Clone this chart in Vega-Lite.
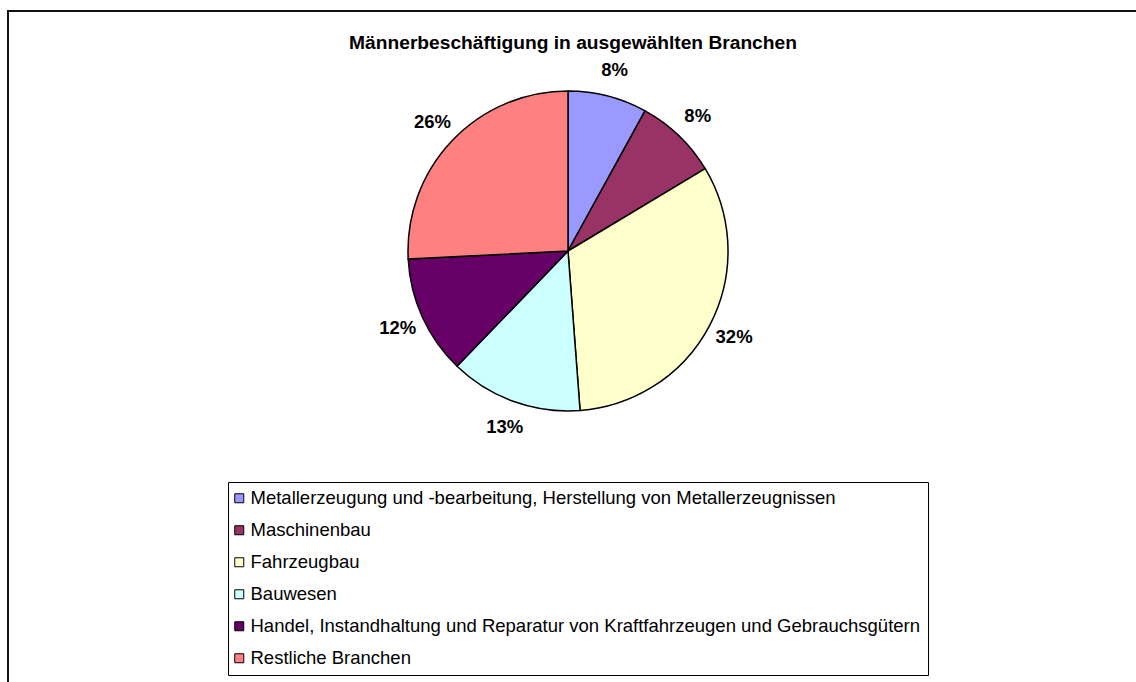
{
  "$schema": "https://vega.github.io/schema/vega-lite/v6.json",
  "autosize": {"type": "none"},
  "padding": {"left": 8, "top": 11, "right": 0, "bottom": 0},
  "width": 1130,
  "height": 673,
  "background": "white",
  "config": {
    "view": {"stroke": null},
    "font": "Liberation Sans"
  },
  "title": {
    "text": "Männerbeschäftigung in ausgewählten Branchen",
    "fontSize": 19.2,
    "fontWeight": "bold",
    "font": "Liberation Sans",
    "color": "black",
    "anchor": "middle",
    "dy": 47
  },
  "data": {
    "values": [
      {"branche": "Metallerzeugung und -bearbeitung, Herstellung von Metallerzeugnissen", "anteil": 0.080, "i": 1},
      {"branche": "Maschinenbau", "anteil": 0.084, "i": 2},
      {"branche": "Fahrzeugbau", "anteil": 0.324, "i": 3},
      {"branche": "Bauwesen", "anteil": 0.134, "i": 4},
      {"branche": "Handel, Instandhaltung und Reparatur von Kraftfahrzeugen und Gebrauchsgütern", "anteil": 0.120, "i": 5},
      {"branche": "Restliche Branchen", "anteil": 0.258, "i": 6}
    ]
  },
  "layer": [
    {
      "data": {"values": [{}]},
      "mark": {"type": "rect", "x": 0, "y": 0, "x2": {"expr": "width"}, "y2": {"expr": "height"}, "fill": null, "stroke": "#111111", "strokeWidth": 2},
      "encoding": {}
    },
    {
      "mark": {"type": "arc", "outerRadius": 160, "stroke": "black", "strokeWidth": 1.5, "x": 560, "y": 240},
      "encoding": {
        "theta": {"field": "anteil", "type": "quantitative", "stack": true},
        "order": {"field": "i", "type": "quantitative"},
        "color": {
          "field": "branche",
          "type": "nominal",
          "sort": null,
          "scale": {
            "domain": [
              "Metallerzeugung und -bearbeitung, Herstellung von Metallerzeugnissen",
              "Maschinenbau",
              "Fahrzeugbau",
              "Bauwesen",
              "Handel, Instandhaltung und Reparatur von Kraftfahrzeugen und Gebrauchsgütern",
              "Restliche Branchen"
            ],
            "range": ["#9999FF", "#993366", "#FFFFCC", "#CCFFFF", "#660066", "#FF8080"]
          },
          "legend": {
            "title": null,
            "orient": "none",
            "legendX": 220,
            "legendY": 471,
            "direction": "vertical",
            "strokeColor": "black",
            "fillColor": "white",
            "padding": 7,
            "symbolType": "square",
            "symbolSize": 81,
            "symbolOffset": -5,
            "symbolStrokeColor": "black",
            "symbolStrokeWidth": 1,
            "symbolOpacity": 1,
            "labelFont": "Liberation Sans",
            "labelFontSize": 18.5,
            "labelColor": "black",
            "labelLimit": 1000,
            "labelOffset": 2,
            "rowPadding": 13
          }
        }
      }
    },
    {
      "mark": {"type": "text", "radius": 187, "fontSize": 18.5, "fontWeight": "bold", "font": "Liberation Sans", "color": "black", "x": 560, "y": 240},
      "encoding": {
        "theta": {"field": "anteil", "type": "quantitative", "stack": true},
        "order": {"field": "i", "type": "quantitative"},
        "text": {"field": "anteil", "type": "quantitative", "format": ".0%"}
      }
    }
  ]
}
